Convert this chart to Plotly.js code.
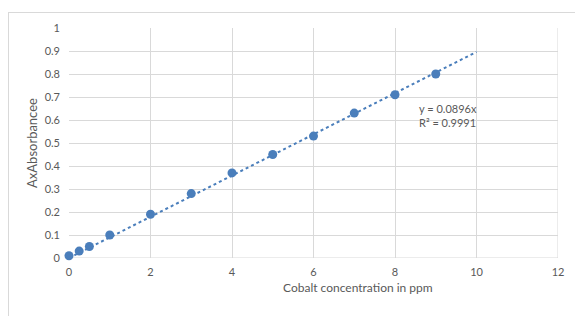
<!DOCTYPE html>
<html><head><meta charset="utf-8">
<script src="https://cdn.plot.ly/plotly-3.0.1.min.js"></script>
<style>
html,body{margin:0;padding:0;background:#fff;}
#wrap{position:relative;width:575px;height:316px;overflow:hidden;}
#frame{position:absolute;left:8px;top:12px;width:600px;height:340px;border:1px solid #d9d9d9;box-sizing:border-box;}
#chart{position:absolute;left:0;top:0;width:575px;height:316px;}
</style></head>
<body><div id="wrap"><div id="frame"></div><div id="chart"></div></div>
<script>
const concentration = [0, 0.25, 0.5, 1, 2, 3, 4, 5, 6, 7, 8, 9];
const absorbance = [0.01, 0.03, 0.05, 0.10, 0.19, 0.28, 0.37, 0.45, 0.53, 0.63, 0.71, 0.80];
const trendSlope = 0.0896;
const trendX = [0, 10];
const trendY = trendX.map(x => trendSlope * x);
const eqText = "y = 0.0896x<br>R² = 0.9991";

const font = "Lato, 'Open Sans', sans-serif";
const grey = "#595959";

Plotly.newPlot('chart', [
  {x: trendX, y: trendY, mode: 'lines', type: 'scatter', cliponaxis: false,
   line: {color: '#4a7ebb', width: 2, dash: 'dot'}, hoverinfo: 'skip'},
  {x: concentration, y: absorbance, mode: 'markers', type: 'scatter', cliponaxis: false,
   marker: {color: '#4a7ebb', size: 9}}
], {
  width: 575, height: 316,
  margin: {l: 69, r: 17, t: 28, b: 58},
  paper_bgcolor: 'rgba(0,0,0,0)', plot_bgcolor: 'rgba(0,0,0,0)',
  showlegend: false,
  font: {family: font, size: 11, color: grey},
  xaxis: {range: [0, 12], dtick: 2, tick0: 0, showgrid: true, gridcolor: '#d9d9d9',
          zeroline: false, showline: false, ticks: '', ticklabelstandoff: 6,
          tickfont: {family: font, size: 11, color: grey}},
  yaxis: {range: [0, 1], dtick: 0.1, tick0: 0, showgrid: true, gridcolor: '#d9d9d9',
          zeroline: false, showline: false, ticks: '', ticklabelstandoff: 8,
          tickfont: {family: font, size: 11, color: grey},
          title: {text: 'AxAbsorbancee', font: {family: font, size: 13, color: grey}, standoff: 4}},
  shapes: [
    {type: 'line', xref: 'paper', yref: 'y', x0: 0, x1: 1, y0: 0, y1: 0, line: {color: '#d9d9d9', width: 1}, layer: 'below'},
    {type: 'line', xref: 'x', yref: 'paper', x0: 12, x1: 12, y0: 0, y1: 1, line: {color: '#d9d9d9', width: 1}, layer: 'below'}
  ],
  annotations: [
    {xref: 'x', yref: 'y', x: 8.55, y: 0.685, xanchor: 'left', yanchor: 'top', align: 'left',
     text: eqText, showarrow: false, font: {family: font, size: 11, color: grey}},
    {xref: 'x', yref: 'paper', x: 7.1, y: 0, yshift: -20, xanchor: 'center', yanchor: 'top',
     text: 'Cobalt concentration in ppm', showarrow: false, font: {family: font, size: 12, color: grey}}
  ]
}, {displayModeBar: false, staticPlot: true});
</script></body></html>
